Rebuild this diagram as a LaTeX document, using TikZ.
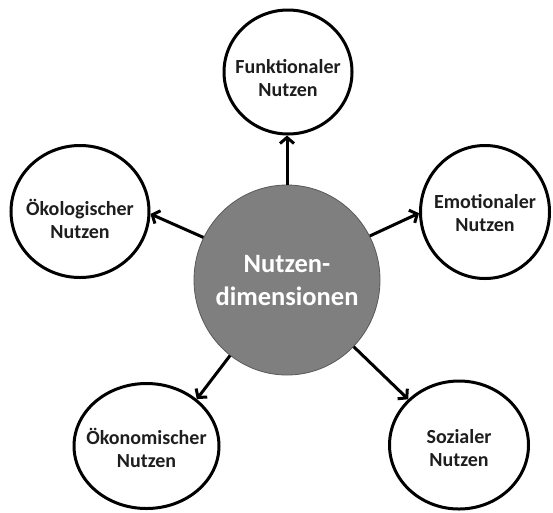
\documentclass[tikz,border=0pt]{standalone}
\usepackage{fontspec}
\setmainfont{Carlito}
\usetikzlibrary{shapes.geometric,arrows.meta}
\definecolor{centerfill}{HTML}{7F7F7F}
\definecolor{centerline}{HTML}{595959}
\definecolor{outertext}{HTML}{1E1E1E}
\tikzset{
  outer/.style 2 args={ellipse, draw=black, line width=3pt, fill=white, inner sep=0pt,
    label={[align=center, text=outertext, inner sep=0pt, yshift=#2,
      font=\bfseries\fontsize{20}{23}\selectfont]center:#1}},
  center/.style={ellipse, draw=centerline, line width=0.8pt, fill=centerfill, inner sep=0pt,
    label={[align=center, text=white, inner sep=0pt,
      font=\bfseries\fontsize{26.5}{33}\selectfont]center:#1}},
  arr/.style={line width=3pt, -{Straight Barb[length=6pt,width=14pt,line width=3pt]}}
}
\begin{document}
\begin{tikzpicture}[x=1pt,y=-1pt]
\useasboundingbox (0,0) rectangle (553,512);
\node[center={Nutzen-\\dimensionen}, minimum width=186pt, minimum height=190pt] (c) at (287,280) {};
\node[outer={Funktionaler\\Nutzen}{-6pt}, minimum width=128pt, minimum height=124pt] (funk) at (288,72) {};
\node[outer={Emotionaler\\Nutzen}{-1pt}, minimum width=129pt, minimum height=133pt] (emo) at (485,212) {};
\node[outer={Ökologischer\\Nutzen}{-7pt}, minimum width=138pt, minimum height=132pt] (oeko) at (80,211.5) {};
\node[outer={Ökonomischer\\Nutzen}{-2pt}, minimum width=145pt, minimum height=125pt] (oekon) at (146.5,446) {};
\node[outer={Sozialer\\Nutzen}{-3pt}, minimum width=139pt, minimum height=128pt] (soz) at (459,445) {};
\draw[arr] (c.north) -- (c.north |- funk.south);
\draw[arr] (c.28) -- (emo.181);
\draw[arr] (c.153) -- (oeko.-2);
\draw[arr] (c.233) -- (oekon.43);
\draw[arr] (c.315) -- (soz.138);
\end{tikzpicture}
\end{document}
